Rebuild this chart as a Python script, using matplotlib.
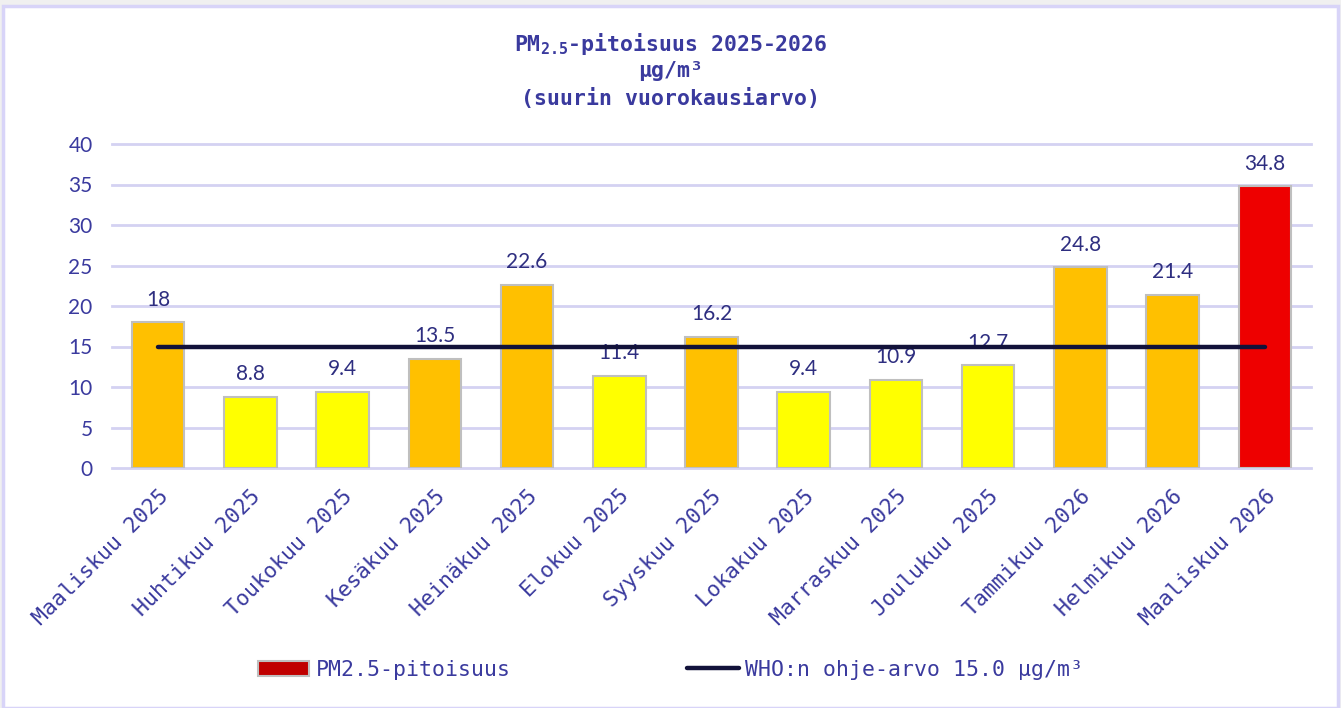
import numpy as np
import matplotlib.pyplot as plt
from matplotlib.patches import Rectangle, Patch
from matplotlib.lines import Line2D

# data
months = ['Maaliskuu 2025', 'Huhtikuu 2025', 'Toukokuu 2025', 'Kesäkuu 2025',
          'Heinäkuu 2025', 'Elokuu 2025', 'Syyskuu 2025', 'Lokakuu 2025',
          'Marraskuu 2025', 'Joulukuu 2025', 'Tammikuu 2026', 'Helmikuu 2026',
          'Maaliskuu 2026']
pm25 = [18, 8.8, 9.4, 13.5, 22.6, 11.4, 16.2, 9.4, 10.9, 12.7, 24.8, 21.4, 34.8]
value_labels = ['18', '8.8', '9.4', '13.5', '22.6', '11.4', '16.2', '9.4',
                '10.9', '12.7', '24.8', '21.4', '34.8']
who_limit = [15.0] * len(months)
yticks = [0, 5, 10, 15, 20, 25, 30, 35, 40]


def bar_colour(v):
    if v > 25:
        return '#EE0000'
    if v >= 13:
        return '#FFC000'
    return '#FFFF00'


mono = 'DejaVu Sans Mono'
sans = 'Lato'
txt_col = '#3A3A9E'
num_col = '#2E2E80'

fig = plt.figure(figsize=(13.41, 7.08), dpi=100, facecolor='#F0F0F0')
fig.patches.append(Rectangle((3 / 1341, 0), 1335 / 1341, 702 / 708,
                             transform=fig.transFigure, facecolor='white',
                             edgecolor='#D8D4F8', linewidth=2.5, zorder=-10))

ax = fig.add_axes([112 / 1341, 1 - 468 / 708, 1199 / 1341, 324 / 708])
ax.set_facecolor('none')

x = np.arange(len(months))
colours = [bar_colour(v) for v in pm25]
ax.bar(x, pm25, width=0.57, color=colours, edgecolor='#BFBFBF',
       linewidth=1.5, zorder=2)

for xi, v, lab in zip(x, pm25, value_labels):
    ax.annotate(lab, (xi, v), xytext=(0, 9), textcoords='offset points',
                ha='center', va='bottom', fontsize=15, family=sans,
                color=num_col, zorder=3)

ax.plot(x, who_limit, color='#12123A', linewidth=3.2,
        solid_capstyle='round', zorder=4)

ax.set_xlim(-0.5, len(months) - 0.5)
ax.set_ylim(0, 40)
ax.set_yticks(yticks)
ax.yaxis.grid(True, color='#D4D2F2', linewidth=2)
ax.set_axisbelow(True)
for gl in ax.get_ygridlines():
    gl.set_clip_on(False)
for s in ax.spines.values():
    s.set_visible(False)
ax.tick_params(axis='both', length=0)
ax.tick_params(axis='y', pad=14, labelsize=15, labelcolor=txt_col)
for t in ax.get_yticklabels():
    t.set_family(sans)

ax.set_xticks(x)
ax.set_xticklabels(months, rotation=45, ha='right', rotation_mode='anchor',
                   family=mono, fontsize=15.5, color=txt_col)
ax.tick_params(axis='x', pad=13)

fig.text(0.5, 1 - 44 / 708, r'PM$_{\mathregular{2.5}}$-pitoisuus 2025-2026',
         ha='center', va='center', family=mono, fontsize=15.5,
         fontweight='bold', color=txt_col)
fig.text(0.5, 1 - 71 / 708, 'µg/m³', ha='center', va='center', family=mono,
         fontsize=15.5, fontweight='bold', color=txt_col)
fig.text(0.5, 1 - 99 / 708, '(suurin vuorokausiarvo)', ha='center',
         va='center', family=mono, fontsize=15.5, fontweight='bold',
         color=txt_col)

handles = [Patch(facecolor='#C00000', edgecolor='#BFBFBF', linewidth=1.5),
           Line2D([0], [0], color='#12123A', linewidth=3.2,
                  solid_capstyle='round')]
fig.legend(handles, ['PM2.5-pitoisuus', 'WHO:n ohje-arvo 15.0 µg/m³'],
           loc='center', bbox_to_anchor=(0.5, 1 - 670 / 708), ncol=2,
           frameon=False, prop={'family': mono, 'size': 15.5},
           labelcolor=txt_col, handlelength=2.4, handleheight=0.75,
           handletextpad=0.3, columnspacing=8.2)

plt.savefig('out.png', dpi=100, facecolor=fig.get_facecolor())
